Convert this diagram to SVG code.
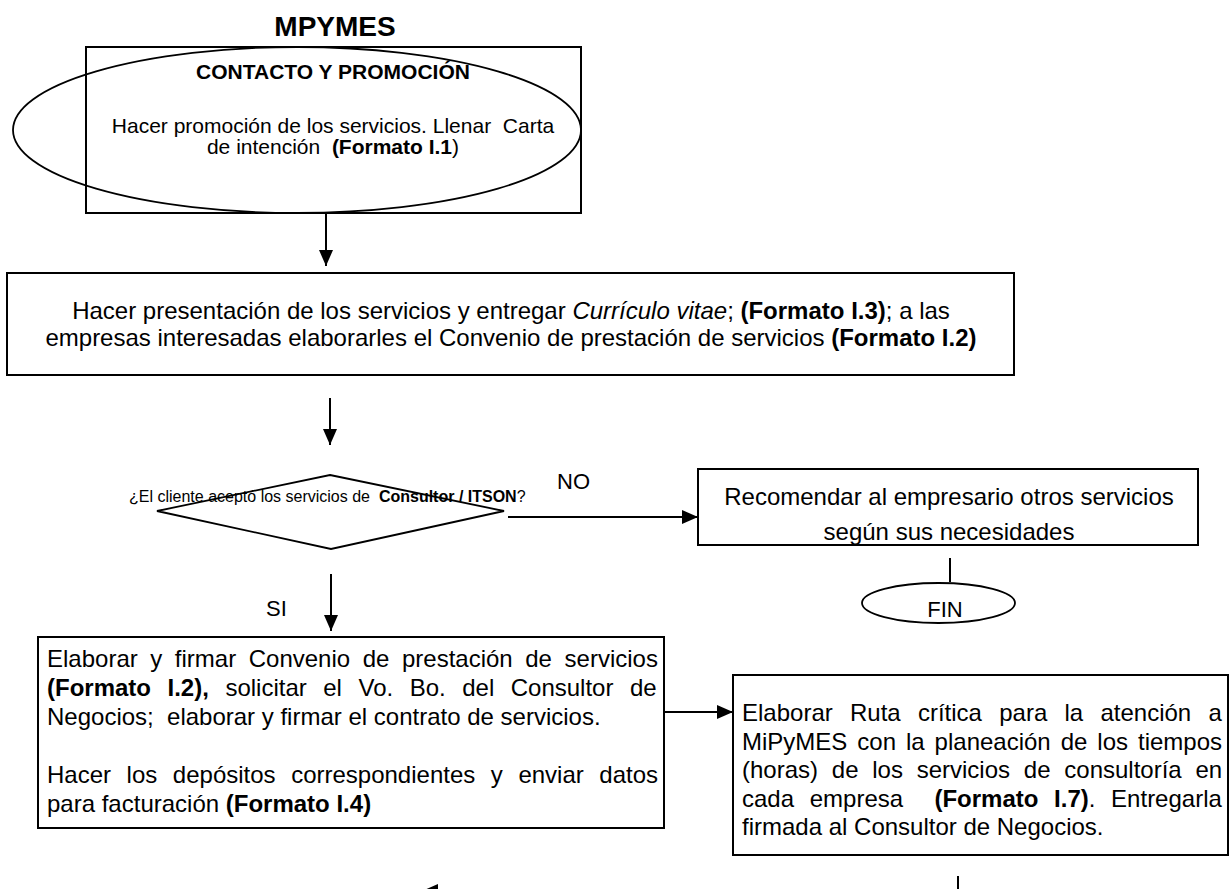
<svg xmlns="http://www.w3.org/2000/svg" width="1231" height="889" viewBox="0 0 1231 889">
  <defs>
    <style>
      text { font-family: "Liberation Sans", Arial, sans-serif; fill: #000; white-space: pre; }
      .b { font-weight: bold; }
      .i { font-style: italic; }
      .box { fill: #fff; stroke: #000; stroke-width: 2; }
      .outline { fill: none; stroke: #000; stroke-width: 1.8; }
      .conn { fill: none; stroke: #000; stroke-width: 2; }
      .t24 { font-size: 24px; }
      .t21 { font-size: 21px; }
      .t22 { font-size: 22px; }
      .t16 { font-size: 16px; }
      .mid { text-anchor: middle; }
    </style>
    <marker id="arrow" viewBox="0 0 16 14" refX="16" refY="7" markerWidth="16" markerHeight="14" markerUnits="userSpaceOnUse" orient="auto">
      <path d="M0,0 L16,7 L0,14 Z" fill="#000"/>
    </marker>
    <clipPath id="clip-recomendar">
      <rect x="699" y="470" width="498" height="74"/>
    </clipPath>
  </defs>

  <rect width="1231" height="889" fill="#fff"/>

  <text id="title" class="b mid" x="335" y="36" font-size="28">MPYMES</text>

  <!-- Start: contact and promotion -->
  <g id="contacto">
    <rect class="box" x="86" y="47" width="495" height="166"/>
    <ellipse class="outline" cx="297" cy="130" rx="284" ry="83"/>
    <text class="b t21 mid" x="333" y="79">CONTACTO Y PROMOCIÓN</text>
    <text class="t21 mid" x="333" y="133">Hacer promoción de los servicios. Llenar  Carta</text>
    <text class="t21 mid" x="333" y="154">de intención  <tspan class="b">(Formato I.1</tspan>)</text>
  </g>

  <!-- Presentation of services -->
  <g id="presentacion">
    <rect class="box" x="7" y="273" width="1007" height="102"/>
    <text class="t24 mid" x="511" y="319">Hacer presentación de los servicios y entregar <tspan class="i">Currículo vitae</tspan>; <tspan class="b">(Formato I.3)</tspan>; a las</text>
    <text class="t24 mid" x="511" y="346">empresas interesadas elaborarles el Convenio de prestación de servicios <tspan class="b">(Formato I.2)</tspan></text>
  </g>

  <!-- Decision -->
  <g id="decision">
    <polygon class="outline" points="330,475 504,511 331,549 157,511"/>
    <text class="t16" x="129" y="502">¿El cliente aceptó los servicios de  <tspan class="b">Consultor / ITSON</tspan>?</text>
  </g>

  <text id="label-no" class="t22" x="557" y="489">NO</text>
  <text id="label-si" class="t22" x="266" y="616">SI</text>

  <!-- Rejected branch -->
  <g id="recomendar">
    <rect class="box" x="698" y="469" width="500" height="76"/>
    <g clip-path="url(#clip-recomendar)">
      <text class="t24 mid" x="949" y="505">Recomendar al empresario otros servicios</text>
      <text class="t24 mid" x="949" y="540">según sus necesidades</text>
    </g>
  </g>

  <g id="fin">
    <ellipse class="outline" cx="938.5" cy="603" rx="76.5" ry="20"/>
    <text class="t22 mid" x="945" y="617">FIN</text>
  </g>

  <!-- Agreement signing -->
  <g id="convenio">
    <rect class="box" x="38" y="637" width="626" height="191"/>
    <text class="t24" x="47" y="667" word-spacing="5.9">Elaborar y firmar Convenio de prestación de servicios</text>
    <text class="t24" x="47" y="696" word-spacing="9.85"><tspan class="b">(Formato I.2),</tspan> solicitar el Vo. Bo. del Consultor de</text>
    <text class="t24" x="47" y="725">Negocios;  elaborar y firmar el contrato de servicios.</text>
    <text class="t24" x="47" y="783" word-spacing="8.9">Hacer los depósitos correspondientes y enviar datos</text>
    <text class="t24" x="47" y="812">para facturación <tspan class="b">(Formato I.4)</tspan></text>
  </g>

  <!-- Critical path -->
  <g id="ruta">
    <rect class="box" x="733" y="675" width="495" height="180"/>
    <text class="t24" x="742" y="721" word-spacing="10.6">Elaborar Ruta crítica para la atención a</text>
    <text class="t24" x="742" y="749.5" word-spacing="3.3">MiPyMES con la planeación de los tiempos</text>
    <text class="t24" x="742" y="778" word-spacing="7.1">(horas) de los servicios de consultoría en</text>
    <text class="t24" x="742" y="806.5" word-spacing="9">cada empresa  <tspan class="b">(Formato I.7)</tspan>. Entregarla</text>
    <text class="t24" x="742" y="835">firmada al Consultor de Negocios.</text>
  </g>

  <g id="connectors">
    <line class="conn" x1="326" y1="213" x2="326" y2="266" marker-end="url(#arrow)"/>
    <line class="conn" x1="330" y1="398" x2="330" y2="445" marker-end="url(#arrow)"/>
    <line class="conn" x1="508" y1="517" x2="698" y2="517" marker-end="url(#arrow)"/>
    <line class="conn" x1="950" y1="558" x2="950" y2="582"/>
    <line class="conn" x1="331" y1="574" x2="331" y2="631" marker-end="url(#arrow)"/>
    <line class="conn" x1="664" y1="712" x2="733" y2="712" marker-end="url(#arrow)"/>
    <line class="conn" x1="700" y1="891" x2="422" y2="891" marker-end="url(#arrow)"/>
    <line class="conn" x1="958" y1="876" x2="958" y2="900"/>
  </g>
</svg>
